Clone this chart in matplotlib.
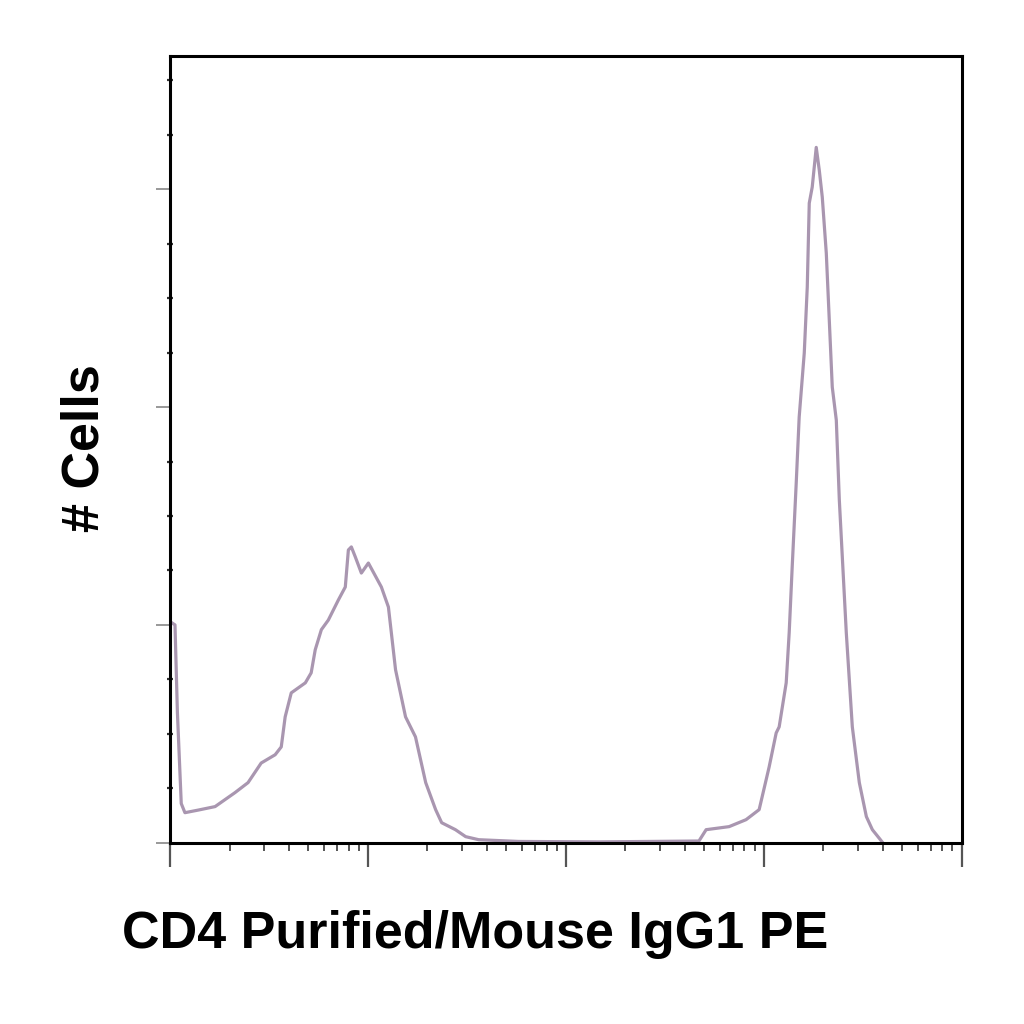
"""Flow cytometry histogram: CD4 Purified / Mouse IgG1 PE."""

import matplotlib.pyplot as plt
import numpy as np
from matplotlib.ticker import LogLocator, MultipleLocator, NullFormatter

# ── Data ──────────────────────────────────────────────────────────────────────
fluorescence = [
    10.0, 10.05, 10.6, 10.9, 11.4, 11.9, 13.9, 16.9, 21.3, 24.8,
    28.9, 34.0, 36.5, 38.2, 41.0, 48.3, 51.7, 54.2, 58.2, 63.1,
    70.9, 76.9, 79.7, 82.5, 86.4, 92.7, 100.6, 117, 127, 138,
    155, 174, 196, 220, 236, 277, 312, 363, 578, 1470,
    4710, 5120, 6690, 8150, 9490, 10660, 11570, 11980, 13000, 13460,
    13940, 14610, 15120, 16040, 16610, 17000, 17600, 18440, 19100, 19780,
    20730, 21460, 22220, 23290, 24120, 26160, 28060, 30440, 33040, 35430,
    38430, 40000,
]
cells = [
    0.0, 50.7, 50.0, 30.0, 9.0, 6.9, 7.5, 8.3, 11.5, 13.8,
    18.3, 20.2, 22.0, 28.9, 34.4, 36.7, 39.0, 44.3, 48.9, 51.1,
    55.7, 58.7, 67.2, 67.9, 65.6, 61.9, 64.2, 58.7, 54.1, 39.7,
    28.9, 24.3, 13.8, 7.6, 4.6, 3.0, 1.4, 0.7, 0.3, 0.2,
    0.4, 3.0, 3.7, 5.3, 7.6, 17.4, 25.2, 26.6, 36.7, 48.2,
    63.3, 82.6, 97.7, 112.4, 127.5, 146.8, 150.5, 159.6, 154.4, 148.2,
    135.3, 120.0, 104.6, 97.0, 78.7, 48.2, 26.6, 13.8, 6.0, 3.0,
    1.0, 0.0,
]

X_LABEL = "CD4 Purified/Mouse IgG1 PE"
Y_LABEL = "# Cells"
LINE_COLOR = "#a996b0"

# ── Figure ────────────────────────────────────────────────────────────────────
plt.rcParams["font.family"] = ["Liberation Sans", "DejaVu Sans"]

fig = plt.figure(figsize=(10.24, 10.24), dpi=100)
ax = fig.add_axes([0.166, 0.177, 0.773, 0.768])

ax.plot(fluorescence, cells, color=LINE_COLOR, linewidth=2.3, solid_joinstyle="round")

ax.set_xscale("log")
ax.set_xlim(10, 1e5)
ax.set_ylim(0, 180.5)

ax.xaxis.set_major_locator(LogLocator(base=10, numticks=10))
ax.xaxis.set_minor_locator(LogLocator(base=10, subs=np.arange(2, 10), numticks=20))
ax.xaxis.set_major_formatter(NullFormatter())
ax.xaxis.set_minor_formatter(NullFormatter())
ax.yaxis.set_major_locator(MultipleLocator(50))
ax.yaxis.set_minor_locator(MultipleLocator(12.5))
ax.set_yticklabels([])

ax.tick_params(axis="x", which="major", direction="out", length=17, width=1.6, color="#555555")
ax.tick_params(axis="x", which="minor", direction="out", length=6, width=1.4, color="#555555")
ax.tick_params(axis="y", which="major", direction="out", length=10, width=1.2, color="#888888")
ax.tick_params(axis="y", which="minor", direction="inout", length=4, width=1.6, color="#333333")

for spine in ax.spines.values():
    spine.set_linewidth(2.2)
    spine.set_color("black")

fig.text(0.464, 0.074, X_LABEL, ha="center", va="baseline",
         fontsize=37.5, fontweight="bold")
fig.text(0.083, 0.562, Y_LABEL, ha="center", va="center", rotation=90,
         fontsize=37.5, fontweight="bold")

fig.savefig("out.png", dpi=100, facecolor="white")
